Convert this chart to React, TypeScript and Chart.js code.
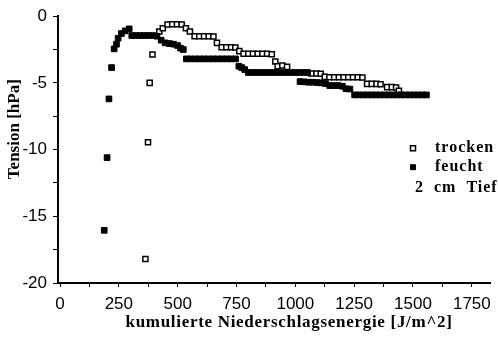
import { useEffect, useRef } from "react";
import { Chart, registerables } from "chart.js";

Chart.register(...registerables);

// cumulative rain energy [J/m^2] and tension [hPa], dry pre-wetting ("trocken")
const trockenX = [
  363, 374, 381, 393, 422, 437, 457, 477, 497, 517, 535, 552, 572, 592, 612, 632, 652,
  667, 687, 707, 727, 745, 762, 780, 800, 820, 840, 860, 880, 900, 915, 925, 945, 965,
  1068, 1090, 1108, 1125, 1145, 1165, 1185, 1205, 1225, 1245, 1265, 1285, 1305, 1325,
  1345, 1362, 1390, 1410, 1428, 1440,
];
const trockenY = [
  -18.2, -9.45, -5.0, -2.87, -1.15, -0.9, -0.62, -0.6, -0.6, -0.62, -0.9, -1.15, -1.5,
  -1.5, -1.5, -1.5, -1.52, -2.0, -2.33, -2.33, -2.33, -2.35, -2.62, -2.82, -2.82, -2.82,
  -2.82, -2.82, -2.82, -2.85, -3.4, -3.75, -3.7, -3.8, -4.29, -4.29, -4.32, -4.55, -4.58,
  -4.58, -4.58, -4.58, -4.58, -4.58, -4.58, -4.6, -5.07, -5.07, -5.07, -5.1, -5.32,
  -5.32, -5.35, -5.6,
];

// moist pre-wetting ("feucht")
const feuchtX = [
  188, 200, 208, 219, 230, 240, 247, 261, 277, 294, 305, 322, 340, 358, 376, 394, 412,
  430, 447, 465, 483, 500, 512, 524, 537, 556, 575, 594, 613, 632, 651, 670, 689, 708,
  727, 746, 760, 772, 785, 800, 818, 836, 854, 872, 890, 908, 926, 944, 962, 980, 998,
  1016, 1034, 1052, 1020, 1038, 1056, 1074, 1092, 1110, 1128, 1146, 1164, 1182, 1200,
  1215, 1232, 1252, 1270, 1288, 1306, 1324, 1342, 1360, 1378, 1396, 1414, 1432, 1450,
  1468, 1486, 1504, 1522, 1540, 1557,
];
const feuchtY = [
  -16.05, -10.6, -6.2, -3.85, -2.45, -2.1, -1.65, -1.3, -1.1, -0.95, -1.45, -1.45, -1.45,
  -1.45, -1.45, -1.45, -1.5, -1.8, -2.0, -2.05, -2.1, -2.2, -2.4, -2.5, -3.2, -3.2, -3.2,
  -3.2, -3.2, -3.2, -3.2, -3.2, -3.2, -3.2, -3.2, -3.2, -3.75, -3.85, -4.0, -4.22, -4.22,
  -4.22, -4.22, -4.22, -4.22, -4.22, -4.22, -4.22, -4.22, -4.22, -4.22, -4.22, -4.22,
  -4.22, -4.9, -4.92, -4.95, -4.95, -4.97, -5.0, -5.05, -5.2, -5.2, -5.2, -5.25, -5.44,
  -5.46, -5.9, -5.9, -5.9, -5.9, -5.9, -5.9, -5.9, -5.9, -5.9, -5.9, -5.9, -5.9, -5.9,
  -5.9, -5.9, -5.9, -5.9, -5.9, -5.9,
];

const xTicks = [0, 125, 250, 375, 500, 625, 750, 875, 1000, 1125, 1250, 1375, 1500, 1625, 1750];
const xLabeled = [0, 250, 500, 750, 1000, 1250, 1500, 1750];
const yTicks = [0, -2.5, -5, -7.5, -10, -12.5, -15, -17.5, -20];
const yLabeled = [0, -5, -10, -15, -20];

const seriesNames = ["trocken", "feucht"];
const noteText = "2  cm  Tiefe";
const xTitle = "kumulierte Niederschlagsenergie [J/m^2]";
const yTitle = "Tension [hPa]";

const tickFont = { family: "'Liberation Sans', Arial, sans-serif", size: 17 };
const titleFont = "bold 17px 'Liberation Serif', 'Times New Roman', serif";
const yTitleFont = "bold 17px 'Liberation Serif', 'Times New Roman', serif";
const legendFont = "bold 16px 'Liberation Serif', 'Times New Roman', serif";

const annotations = {
  id: "annotations",
  afterDraw(chart: any) {
    const { ctx, chartArea } = chart;
    ctx.save();
    ctx.fillStyle = "#000";

    // x axis title
    ctx.font = titleFont;
    ctx.letterSpacing = "0.7px";
    ctx.textAlign = "center";
    ctx.textBaseline = "alphabetic";
    ctx.fillText(xTitle, chartArea.left + 231, chartArea.bottom + 44);

    // y axis title
    ctx.save();
    ctx.letterSpacing = "0px";
    ctx.translate(15, chartArea.top + 113);
    ctx.rotate(-Math.PI / 2);
    ctx.font = yTitleFont;
    ctx.textAlign = "center";
    ctx.textBaseline = "middle";
    ctx.fillText(yTitle, 0, 0);
    ctx.restore();

    // legend
    const lx = chartArea.left + 355;
    const ly = chartArea.top + 132;
    ctx.font = legendFont;
    ctx.letterSpacing = "1px";
    ctx.textAlign = "left";
    ctx.textBaseline = "middle";
    chart.data.datasets.forEach((ds: any, i: number) => {
      const y = ly + i * 19;
      ctx.fillStyle = ds.backgroundColor;
      ctx.strokeStyle = ds.borderColor;
      ctx.lineWidth = ds.borderWidth;
      ctx.beginPath();
      ctx.rect(lx - 2.5, y - 2.5, 5, 5);
      ctx.fill();
      ctx.stroke();
      ctx.fillStyle = "#000";
      ctx.fillText(seriesNames[i], lx + 22, y);
    });
    ctx.fillText(noteText, lx + 2, ly + 40);
    ctx.restore();
  },
};

export default function App() {
  const canvasRef = useRef<HTMLCanvasElement | null>(null);

  useEffect(() => {
    const canvas = canvasRef.current;
    if (!canvas) return;
    const chart = new Chart(canvas, {
      type: "scatter",
      data: {
        datasets: [
          {
            label: seriesNames[0],
            data: trockenX.map((x, i) => ({ x, y: trockenY[i] })),
            pointStyle: "rect",
            pointRadius: 3.6,
            borderWidth: 1.5,
            borderColor: "#000",
            backgroundColor: "#fff",
            order: 1,
          },
          {
            label: seriesNames[1],
            data: feuchtX.map((x, i) => ({ x, y: feuchtY[i] })),
            pointStyle: "rect",
            pointRadius: 4,
            borderWidth: 1,
            borderColor: "#000",
            backgroundColor: "#000",
            order: 0,
          },
        ],
      },
      options: {
        responsive: false,
        animation: false,
        devicePixelRatio: 1,
        layout: { padding: { top: 11, right: 6, left: 0, bottom: 0 } },
        plugins: { legend: { display: false }, tooltip: { enabled: false } },
        scales: {
          x: {
            type: "linear",
            min: -8.5,
            max: 1830,
            afterBuildTicks: (scale: any) => {
              scale.ticks = xTicks.map((value) => ({ value }));
            },
            afterFit: (scale: any) => {
              scale.height = 63;
            },
            grid: { drawOnChartArea: false, drawTicks: true, tickLength: 4, color: "#000", lineWidth: 1 },
            border: { display: true, color: "#000", width: 2 },
            ticks: {
              autoSkip: false,
              maxRotation: 0,
              padding: 7,
              color: "#000",
              font: tickFont,
              callback: (v: any) => (xLabeled.includes(Number(v)) ? String(v) : ""),
            },
          },
          y: {
            type: "linear",
            min: -20,
            max: 0,
            afterBuildTicks: (scale: any) => {
              scale.ticks = yTicks.map((value) => ({ value }));
            },
            afterFit: (scale: any) => {
              scale.width = 58;
            },
            grid: { drawOnChartArea: false, drawTicks: true, tickLength: 5, color: "#000", lineWidth: 1 },
            border: { display: true, color: "#000", width: 2 },
            ticks: {
              autoSkip: false,
              padding: 6,
              color: "#000",
              font: tickFont,
              callback: (v: any) => (yLabeled.includes(Number(v)) ? String(v) : ""),
            },
          },
        },
      },
      plugins: [annotations],
    });
    return () => chart.destroy();
  }, []);

  return (
    <div style={{ position: "fixed", left: 0, top: 0, width: 498, height: 346, background: "#fff" }}>
      <canvas ref={canvasRef} width={498} height={346} style={{ display: "block" }} />
    </div>
  );
}
